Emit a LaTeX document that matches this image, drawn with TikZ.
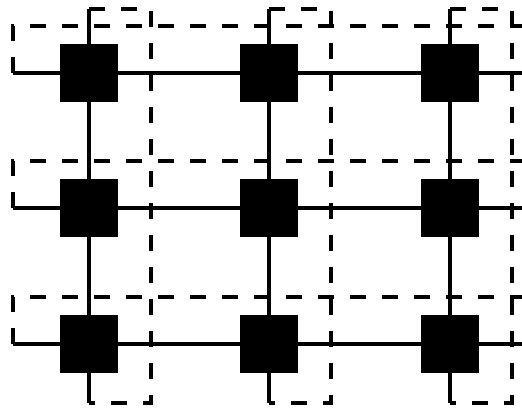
\documentclass[tikz,border=0pt]{standalone}

\tikzset{
  proc/.style={draw=none,fill=black,minimum size=1.16cm,inner sep=0pt},
  link/.style={line width=2.6pt},
  bound/.style={line width=2.6pt,dash pattern=on 9.1pt off 9.1pt},
}

\begin{document}
\begin{tikzpicture}[x=0.02cm,y=-0.02cm]
  \useasboundingbox (0,0) rectangle (522,409);

  % dashed boundaries of rows and columns
  \foreach \y in {73,208,344}
  \draw[bound] (13,\y) -- (13,\y-47) -- (522,\y-47);
  \foreach \x in {89,269,450}
  \draw[bound] (\x,9) -- (\x+62,9) -- (\x+62,403) -- (\x,403);

  % processors
  \foreach \x/\c in {89/1,269/2,450/3}
  \foreach \y/\r in {73/1,208/2,344/3}
  \node[proc] (p\r\c) at (\x,\y) {};

  % free ends of the links
  \foreach \y/\r in {73/1,208/2,344/3} {
    \coordinate (w\r) at (13,\y);
    \coordinate (e\r) at (522,\y);
  }
  \foreach \x/\c in {89/1,269/2,450/3} {
    \coordinate (n\c) at (\x,9);
    \coordinate (s\c) at (\x,403);
  }

  % links
  \foreach \r in {1,2,3}
  \draw[link] (w\r) -- (p\r1) -- (p\r2) -- (p\r3) -- (e\r);
  \foreach \c in {1,2,3}
  \draw[link] (n\c) -- (p1\c) -- (p2\c) -- (p3\c) -- (s\c);
\end{tikzpicture}
\end{document}
